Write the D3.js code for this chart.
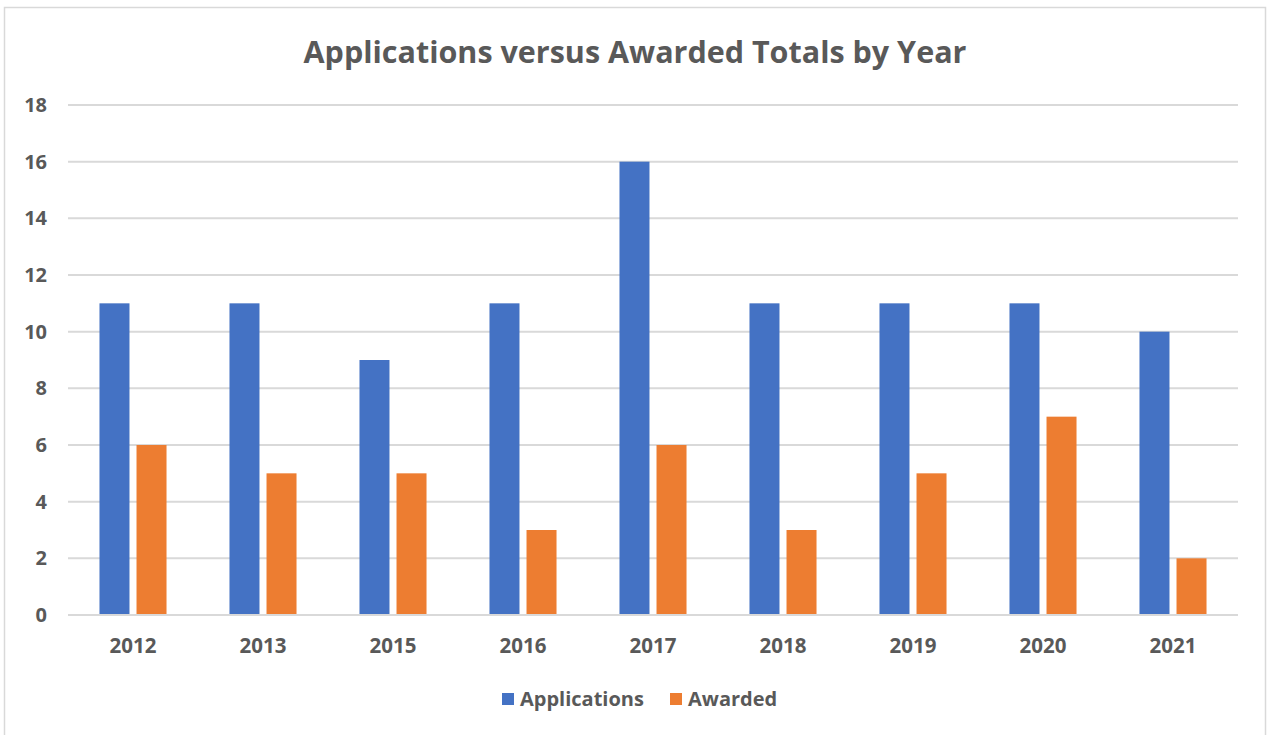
<!DOCTYPE html>
<html>
<head>
<meta charset="utf-8">
<script src="https://cdn.jsdelivr.net/npm/d3@7"></script>
<style>
  body { margin: 0; background: #fff; }
  text { font-family: "Open Sans", Lato, sans-serif; font-weight: bold; fill: #595959; }
</style>
</head>
<body>
<div id="chart"></div>
<script>
let w = 1268;
let h = 735;

// data
let years = ["2012", "2013", "2015", "2016", "2017", "2018", "2019", "2020", "2021"];
let applications = [11, 11, 9, 11, 16, 11, 11, 11, 10];
let awarded = [6, 5, 5, 3, 6, 3, 5, 7, 2];
let seriesNames = ["Applications", "Awarded"];
let seriesColors = ["#4472c4", "#ed7d31"];
let yTicks = [0, 2, 4, 6, 8, 10, 12, 14, 16, 18];

let svg = d3.select("#chart")
  .append("svg")
  .attr("width", w)
  .attr("height", h);

// outer chart border
svg.append("rect")
  .attr("x", 4.5).attr("y", 7.5)
  .attr("width", 1261).attr("height", 740)
  .attr("fill", "white")
  .attr("stroke", "#d9d9d9")
  .attr("stroke-width", 1.5);

let plotLeft = 68, plotRight = 1238, plotTop = 105, plotBottom = 615;

let xScale = d3.scaleBand().domain(years).range([plotLeft, plotRight]);
let yScale = d3.scaleLinear().domain([0, 18]).range([plotBottom, plotTop]);

// inner band for the two series
let xSub = d3.scaleBand().domain(seriesNames)
  .range([0, xScale.bandwidth()])
  .paddingInner(0.19)
  .paddingOuter(0.85);

// gridlines
svg.append("g")
  .selectAll("line")
  .data(yTicks)
  .enter()
  .append("line")
  .attr("x1", plotLeft)
  .attr("x2", plotRight)
  .attr("y1", d => yScale(d))
  .attr("y2", d => yScale(d))
  .attr("stroke", "#d9d9d9")
  .attr("stroke-width", 2);

// y labels
svg.append("g")
  .selectAll("text")
  .data(yTicks)
  .enter()
  .append("text")
  .attr("x", 47)
  .attr("y", d => yScale(d))
  .attr("dy", "0.35em")
  .attr("text-anchor", "end")
  .style("font-size", "20px")
  .text(d => d);

// bars
let rows = years.map((y, i) => ({ year: y, values: [applications[i], awarded[i]] }));

let groups = svg.append("g")
  .selectAll("g")
  .data(rows)
  .enter()
  .append("g")
  .attr("transform", d => "translate(" + xScale(d.year) + ",0)");

groups.selectAll("rect")
  .data(d => d.values.map((v, j) => ({ name: seriesNames[j], value: v, color: seriesColors[j] })))
  .enter()
  .append("rect")
  .attr("x", d => xSub(d.name))
  .attr("width", xSub.bandwidth())
  .attr("y", d => yScale(d.value))
  .attr("height", d => plotBottom - yScale(d.value) - 1)
  .attr("fill", d => d.color);

// x labels
svg.append("g")
  .selectAll("text")
  .data(years)
  .enter()
  .append("text")
  .attr("x", d => xScale(d) + xScale.bandwidth() / 2)
  .attr("y", 646)
  .attr("dy", "0.35em")
  .attr("text-anchor", "middle")
  .style("font-size", "20.5px")
  .text(d => d);

// title
svg.append("text")
  .attr("x", 635)
  .attr("y", 52)
  .attr("dy", "0.35em")
  .attr("text-anchor", "middle")
  .style("font-size", "30.5px")
  .text("Applications versus Awarded Totals by Year");

// legend
let legendX = [502, 670];
let legend = svg.append("g")
  .selectAll("g")
  .data(seriesNames)
  .enter()
  .append("g")
  .attr("transform", (d, i) => "translate(" + legendX[i] + ",699)");

legend.append("rect")
  .attr("x", 0).attr("y", -6)
  .attr("width", 12).attr("height", 12)
  .attr("fill", (d, i) => seriesColors[i]);

legend.append("text")
  .attr("x", 18)
  .attr("dy", "0.35em")
  .style("font-size", "20px")
  .text(d => d);
</script>
</body>
</html>
